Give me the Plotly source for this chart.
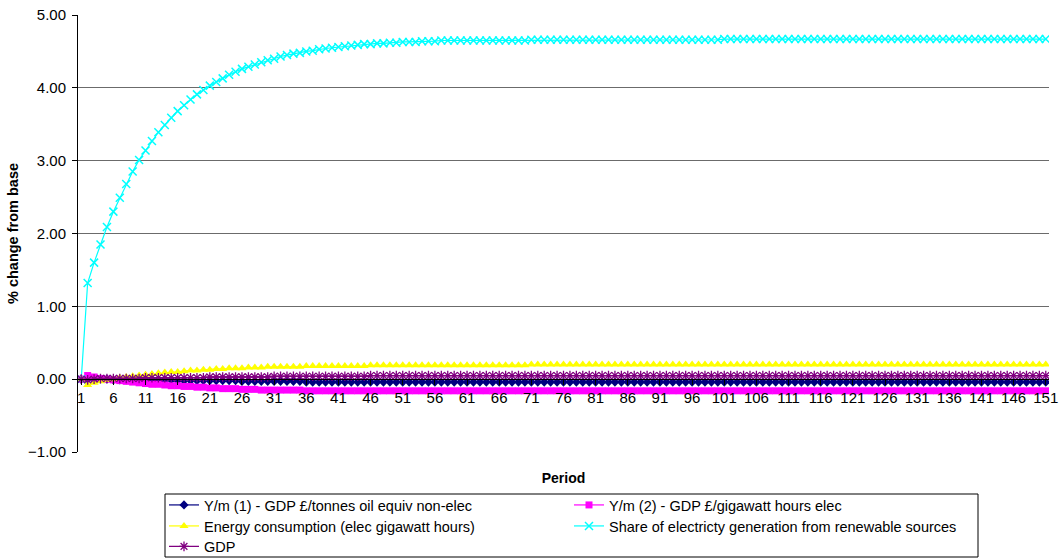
import plotly.graph_objects as go

periods = list(range(1, 152))

ym1_non_elec = [
    0.00, 0.00, 0.00, 0.00, 0.00, -0.01, -0.01, -0.01, -0.01, -0.01,
    -0.01, -0.01, -0.01, -0.01, -0.01, -0.02, -0.02, -0.02, -0.02, -0.02,
    -0.02, -0.02, -0.02, -0.02, -0.02, -0.03, -0.03, -0.03, -0.03, -0.03,
    -0.03, -0.03, -0.03, -0.03, -0.03, -0.04, -0.04, -0.04, -0.04, -0.04,
    -0.04, -0.04, -0.04, -0.04, -0.04, -0.04, -0.04, -0.04, -0.04, -0.04,
    -0.04, -0.04, -0.04, -0.04, -0.04, -0.04, -0.04, -0.04, -0.04, -0.04,
    -0.04, -0.04, -0.04, -0.04, -0.04, -0.04, -0.04, -0.04, -0.04, -0.04,
    -0.04, -0.04, -0.04, -0.04, -0.04, -0.04, -0.04, -0.04, -0.04, -0.04,
    -0.04, -0.04, -0.04, -0.04, -0.04, -0.04, -0.04, -0.04, -0.04, -0.04,
    -0.04, -0.04, -0.04, -0.04, -0.04, -0.04, -0.04, -0.04, -0.04, -0.04,
    -0.04, -0.04, -0.04, -0.04, -0.04, -0.04, -0.04, -0.04, -0.04, -0.04,
    -0.04, -0.04, -0.04, -0.04, -0.04, -0.04, -0.04, -0.04, -0.04, -0.04,
    -0.04, -0.04, -0.04, -0.04, -0.04, -0.04, -0.04, -0.04, -0.04, -0.04,
    -0.04, -0.04, -0.04, -0.04, -0.04, -0.04, -0.04, -0.04, -0.04, -0.04,
    -0.04, -0.04, -0.04, -0.04, -0.04, -0.04, -0.04, -0.04, -0.04, -0.04,
    -0.04,
]

ym2_elec = [
    0.00, 0.05, 0.03, 0.01, 0.00, -0.01, -0.02, -0.03, -0.04, -0.05,
    -0.06, -0.07, -0.07, -0.08, -0.09, -0.09, -0.10, -0.10, -0.11, -0.11,
    -0.12, -0.12, -0.13, -0.13, -0.13, -0.14, -0.14, -0.14, -0.15, -0.15,
    -0.15, -0.15, -0.15, -0.15, -0.15, -0.16, -0.16, -0.16, -0.16, -0.16,
    -0.16, -0.16, -0.16, -0.16, -0.16, -0.16, -0.16, -0.16, -0.16, -0.16,
    -0.16, -0.16, -0.16, -0.16, -0.16, -0.16, -0.16, -0.16, -0.16, -0.16,
    -0.16, -0.16, -0.16, -0.16, -0.16, -0.16, -0.16, -0.16, -0.16, -0.16,
    -0.16, -0.16, -0.16, -0.16, -0.16, -0.16, -0.16, -0.16, -0.16, -0.16,
    -0.16, -0.16, -0.16, -0.16, -0.16, -0.16, -0.16, -0.16, -0.16, -0.16,
    -0.16, -0.16, -0.16, -0.16, -0.16, -0.16, -0.16, -0.16, -0.16, -0.16,
    -0.16, -0.16, -0.16, -0.16, -0.16, -0.16, -0.16, -0.16, -0.16, -0.16,
    -0.16, -0.16, -0.16, -0.16, -0.16, -0.16, -0.16, -0.16, -0.16, -0.16,
    -0.16, -0.16, -0.16, -0.16, -0.16, -0.16, -0.16, -0.16, -0.16, -0.16,
    -0.16, -0.16, -0.16, -0.16, -0.16, -0.16, -0.16, -0.16, -0.16, -0.16,
    -0.16, -0.16, -0.16, -0.16, -0.16, -0.16, -0.16, -0.16, -0.16, -0.16,
    -0.16,
]

energy_consumption = [
    0.00, -0.08, -0.05, -0.03, -0.01, 0.00, 0.02, 0.03, 0.04, 0.05,
    0.06, 0.07, 0.08, 0.09, 0.10, 0.10, 0.11, 0.12, 0.12, 0.13,
    0.13, 0.14, 0.14, 0.15, 0.15, 0.15, 0.16, 0.16, 0.16, 0.17,
    0.17, 0.17, 0.17, 0.17, 0.17, 0.18, 0.18, 0.18, 0.18, 0.18,
    0.18, 0.18, 0.18, 0.18, 0.18, 0.19, 0.19, 0.19, 0.19, 0.19,
    0.19, 0.19, 0.19, 0.19, 0.19, 0.19, 0.19, 0.19, 0.19, 0.19,
    0.19, 0.19, 0.19, 0.19, 0.19, 0.19, 0.19, 0.19, 0.19, 0.19,
    0.20, 0.20, 0.20, 0.20, 0.20, 0.20, 0.20, 0.20, 0.20, 0.20,
    0.20, 0.20, 0.20, 0.20, 0.20, 0.20, 0.20, 0.20, 0.20, 0.20,
    0.20, 0.20, 0.20, 0.20, 0.20, 0.20, 0.20, 0.20, 0.20, 0.20,
    0.20, 0.20, 0.20, 0.20, 0.20, 0.20, 0.20, 0.20, 0.20, 0.20,
    0.20, 0.20, 0.20, 0.20, 0.20, 0.20, 0.20, 0.20, 0.20, 0.20,
    0.20, 0.20, 0.20, 0.20, 0.20, 0.20, 0.20, 0.20, 0.20, 0.20,
    0.20, 0.20, 0.20, 0.20, 0.20, 0.20, 0.20, 0.20, 0.20, 0.20,
    0.20, 0.20, 0.20, 0.20, 0.20, 0.20, 0.20, 0.20, 0.20, 0.20,
    0.20,
]

renewable_share = [
    0.00, 1.32, 1.60, 1.85, 2.09, 2.30, 2.49, 2.68, 2.85, 3.01,
    3.14, 3.27, 3.39, 3.49, 3.59, 3.68, 3.76, 3.84, 3.91, 3.97,
    4.03, 4.08, 4.13, 4.18, 4.22, 4.26, 4.29, 4.32, 4.35, 4.38,
    4.40, 4.43, 4.45, 4.47, 4.48, 4.50, 4.51, 4.53, 4.54, 4.55,
    4.56, 4.57, 4.58, 4.59, 4.60, 4.60, 4.61, 4.61, 4.62, 4.62,
    4.63, 4.63, 4.63, 4.64, 4.64, 4.64, 4.65, 4.65, 4.65, 4.65,
    4.65, 4.65, 4.65, 4.65, 4.65, 4.65, 4.65, 4.65, 4.65, 4.65,
    4.66, 4.66, 4.66, 4.66, 4.66, 4.66, 4.66, 4.66, 4.66, 4.66,
    4.66, 4.66, 4.66, 4.66, 4.66, 4.66, 4.66, 4.66, 4.66, 4.66,
    4.66, 4.66, 4.66, 4.66, 4.66, 4.66, 4.66, 4.66, 4.66, 4.66,
    4.67, 4.67, 4.67, 4.67, 4.67, 4.67, 4.67, 4.67, 4.67, 4.67,
    4.67, 4.67, 4.67, 4.67, 4.67, 4.67, 4.67, 4.67, 4.67, 4.67,
    4.67, 4.67, 4.67, 4.67, 4.67, 4.67, 4.67, 4.67, 4.67, 4.67,
    4.67, 4.67, 4.67, 4.67, 4.67, 4.67, 4.67, 4.67, 4.67, 4.67,
    4.67, 4.67, 4.67, 4.67, 4.67, 4.67, 4.67, 4.67, 4.67, 4.67,
    4.67,
]

gdp = [
    0.00, -0.01, 0.00, 0.01, 0.01, 0.01, 0.01, 0.01, 0.01, 0.01,
    0.02, 0.02, 0.02, 0.02, 0.02, 0.02, 0.02, 0.02, 0.02, 0.02,
    0.03, 0.03, 0.03, 0.03, 0.03, 0.03, 0.03, 0.03, 0.03, 0.03,
    0.04, 0.04, 0.04, 0.04, 0.04, 0.04, 0.04, 0.04, 0.04, 0.04,
    0.04, 0.04, 0.04, 0.04, 0.04, 0.05, 0.05, 0.05, 0.05, 0.05,
    0.05, 0.05, 0.05, 0.05, 0.05, 0.05, 0.05, 0.05, 0.05, 0.05,
    0.05, 0.05, 0.05, 0.05, 0.05, 0.05, 0.05, 0.05, 0.05, 0.05,
    0.05, 0.05, 0.05, 0.05, 0.05, 0.05, 0.05, 0.05, 0.05, 0.05,
    0.05, 0.05, 0.05, 0.05, 0.05, 0.05, 0.05, 0.05, 0.05, 0.05,
    0.05, 0.05, 0.05, 0.05, 0.05, 0.05, 0.05, 0.05, 0.05, 0.05,
    0.05, 0.05, 0.05, 0.05, 0.05, 0.05, 0.05, 0.05, 0.05, 0.05,
    0.05, 0.05, 0.05, 0.05, 0.05, 0.05, 0.05, 0.05, 0.05, 0.05,
    0.05, 0.05, 0.05, 0.05, 0.05, 0.05, 0.05, 0.05, 0.05, 0.05,
    0.05, 0.05, 0.05, 0.05, 0.05, 0.05, 0.05, 0.05, 0.05, 0.05,
    0.05, 0.05, 0.05, 0.05, 0.05, 0.05, 0.05, 0.05, 0.05, 0.05,
    0.05,
]

series_names = [
    "Y/m (1) - GDP £/tonnes oil equiv non-elec",
    "Y/m (2) - GDP £/gigawatt hours elec",
    "Energy consumption (elec gigawatt hours)",
    "Share of electricty generation from renewable sources",
    "GDP",
]
x_tick_labels = [str(p) for p in range(1, 152, 5)]
y_tick_values = [-1, 0, 1, 2, 3, 4, 5]

FONT = "Liberation Sans, Arial, sans-serif"

W, H = 1061, 559
ML, MR, MT, MB = 78, 12, 15, 107
PW = W - ML - MR
PH = H - MT - MB


def px_x(fx):
    return (fx - ML) / PW


def px_y(fy):
    return (H - MB - fy) / PH


fig = go.Figure()

styles = [
    (ym1_non_elec, "#000080", dict(symbol="diamond", size=7, color="#000080"), "legend"),
    (ym2_elec, "#FF00FF", dict(symbol="square", size=7, color="#FF00FF"), "legend"),
    (energy_consumption, "#FFFF00", dict(symbol="triangle-up", size=8, color="#FFFF00"), "legend2"),
    (renewable_share, "#00FFFF", dict(symbol="x-thin", size=8, color="#00FFFF",
                                      line=dict(width=1.5, color="#00FFFF")), "legend2"),
    (gdp, "#800080", dict(symbol="asterisk", size=8, color="#800080",
                          line=dict(width=1.3, color="#800080")), "legend3"),
]

for name, (vals, col, mk, lg) in zip(series_names, styles):
    fig.add_trace(go.Scatter(
        x=periods, y=vals, name=name, mode="lines+markers",
        line=dict(color=col, width=1.2), marker=mk, legend=lg,
    ))

leg_common = dict(
    orientation="h", xanchor="left", yanchor="middle",
    borderwidth=0, bgcolor="rgba(0,0,0,0)",
    entrywidth=360, entrywidthmode="pixels",
    font=dict(family=FONT, size=14.5, color="black"),
    itemwidth=30, tracegroupgap=0,
)
leg_x = px_x(164)

fig.update_layout(
    width=W, height=H,
    margin=dict(l=ML, r=MR, t=MT, b=MB, autoexpand=False),
    paper_bgcolor="white", plot_bgcolor="white",
    font=dict(family=FONT, size=14, color="black"),
    showlegend=True,
    legend=dict(x=leg_x, y=px_y(505), **leg_common),
    legend2=dict(x=leg_x, y=px_y(526), **leg_common),
    legend3=dict(x=leg_x, y=px_y(546.5), **leg_common),
    shapes=[dict(
        type="rect", xref="paper", yref="paper",
        x0=px_x(165), x1=px_x(978), y0=px_y(494), y1=px_y(557),
        line=dict(color="black", width=1), fillcolor="rgba(0,0,0,0)",
        layer="below",
    )],
)

fig.update_yaxes(
    range=[-1, 5], tickvals=y_tick_values, tickformat=".2f",
    showgrid=True, gridcolor="#6b6b6b", gridwidth=1,
    zeroline=False, showline=True, linecolor="black", linewidth=1,
    ticks="outside", ticklen=5, tickcolor="black", ticklabelstandoff=3,
    ticklabeloverflow="allow",
    tickfont=dict(family=FONT, size=15, color="black"),
    automargin=False,
    title=dict(text="<b>% change from base</b>", standoff=5,
               font=dict(family=FONT, size=14.5, color="black")),
)

fig.update_xaxes(
    range=[0.5, 151.5], tickvals=[int(t) for t in x_tick_labels], ticktext=x_tick_labels,
    anchor="free", position=1 / 6,
    showgrid=False, zeroline=False, showline=True, linecolor="black", linewidth=1,
    ticks="outside", ticklen=5, tickcolor="black",
    ticklabeloverflow="allow",
    tickfont=dict(family=FONT, size=15, color="black"),
    automargin=False,
    title=dict(text="<b>Period</b>", standoff=68,
               font=dict(family=FONT, size=14, color="black")),
)

# Remove the browser's default 8px page margin so the figure sits at (0, 0).
fig.write_html(
    "out.html",
    config={"displayModeBar": False},
    post_script="document.body.style.margin = '0';",
)
